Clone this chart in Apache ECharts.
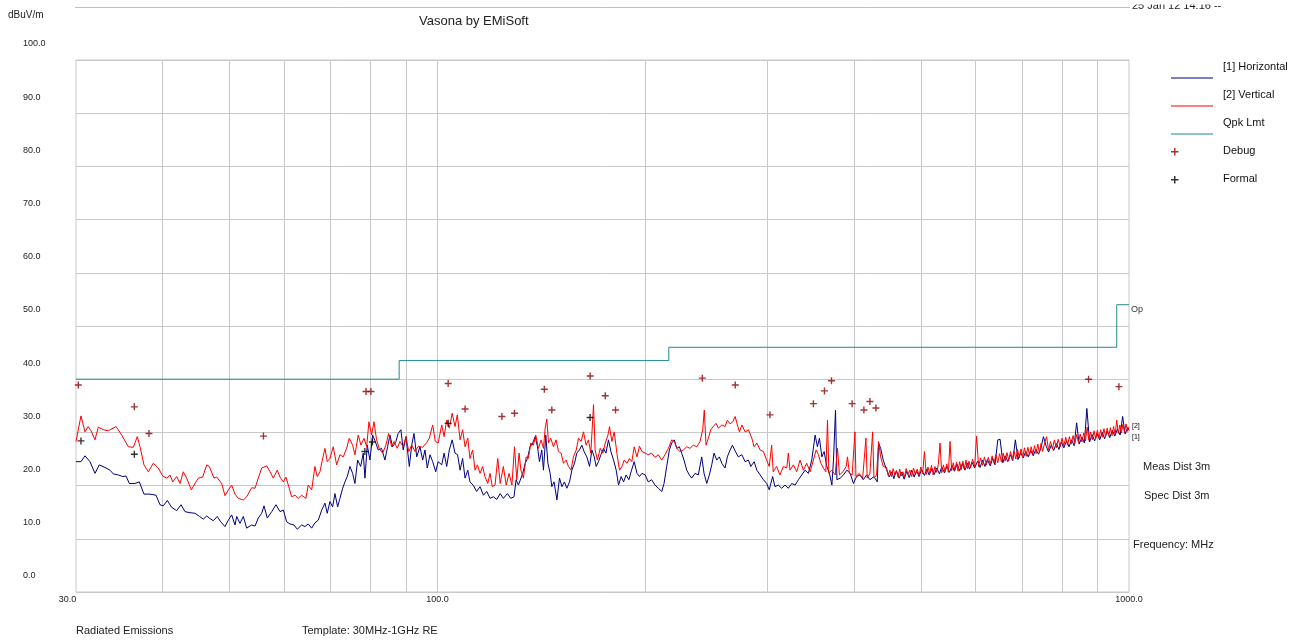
<!DOCTYPE html>
<html>
<head>
<meta charset="utf-8">
<title>Vasona by EMiSoft</title>
<script src="https://cdn.jsdelivr.net/npm/echarts@6/dist/echarts.min.js"></script>
<style>
  html, body { margin: 0; padding: 0; background: #fff; }
  #chart { width: 1297px; height: 640px; }
</style>
</head>
<body>
<div id="chart"></div>
<script>
// readings: [frequency MHz, level dBuV/m]
const horizontal = [
  [30.0,24.5],[30.5,24.5],[30.91,25.6],[31.43,24.5],[31.96,22.3],[32.42,23.9],[33.04,23.4],[33.60,22.9],[33.97,22.2],[34.54,22.0],
  [35.05,21.7],[35.44,21.8],[35.83,20.4],[36.51,20.4],[37.04,20.7],[37.62,18.4],[38.38,18.4],[39.16,18.2],[39.68,16.4],[40.12,16.2],
  [40.66,17.2],[41.26,15.9],[41.95,15.3],[42.56,16.4],[43.13,15.1],[43.85,14.9],[44.59,14.8],[45.27,14.2],[45.84,13.7],[46.36,14.3],
  [46.76,13.9],[47.39,13.4],[48.02,14.2],[48.57,13.2],[49.27,12.3],[49.82,13.5],[50.38,14.5],[50.94,12.6],[51.23,14.2],[51.79,12.9],
  [52.37,14.2],[52.96,12.0],[53.85,12.6],[54.45,12.4],[55.05,13.9],[55.68,14.8],[56.11,16.2],[56.72,13.9],[57.57,15.1],[58.38,16.4],
  [59.18,15.1],[59.84,15.4],[60.50,13.2],[61.17,12.8],[62.00,12.6],[62.68,11.8],
  [63.60,12.6],[64.30,12.3],[65.01,12.8],[65.76,12.0],[66.48,13.0],[67.21,13.5],[68.00,15.4],[68.73,16.7],[69.26,14.8],[69.88,17.0],
  [70.51,16.0],[71.06,18.5],[71.70,16.0],[72.25,17.6],[72.91,19.5],[73.47,20.7],[74.03,21.7],[74.70,23.6],[75.37,22.3],[75.95,20.4],
  [76.64,24.8],[77.41,23.6],[78.08,26.1],[78.53,21.4],[79.13,27.6],[79.84,24.8],[80.56,29.5],[81.27,28.3],[82.07,26.7],[83.00,27.0],
  [83.92,24.8],[84.68,27.3],[85.33,29.5],[86.10,27.3],[87.05,28.3],[87.72,29.8],[88.51,30.5],[89.19,26.7],[90.03,29.2],[91.03,23.6],
  [91.76,27.6],[92.46,29.8],[93.30,25.4],[94.32,27.3],[95.17,24.8],[95.90,26.7],[96.64,23.3],[97.52,25.8],[98.40,24.5],[99.39,22.6],
  [100.2,24.5],[101.4,23.9],[102.2,26.1],[103.1,23.6],[104.0,26.7],[105.0,28.6],[106.0,26.1],[106.9,25.8],[107.8,22.9],[108.7,25.1],
  [109.6,21.4],[110.6,22.9],[111.4,20.7],[112.6,20.1],[113.9,18.9],[115.2,19.8],[116.5,18.2],[117.8,18.9],[119.1,17.6],[120.4,17.9],
  [121.8,17.4],[123.2,18.5],[124.5,17.6],[126.2,18.5],[127.6,17.6],[129.0,17.9],[129.9,21.1],[130.9,20.1],
  [131.6,19.8],[132.8,22.3],[133.9,24.2],[134.9,25.1],[136.1,27.3],[137.3,28.0],[138.4,29.2],[139.5,27.3],[140.4,24.5],[141.5,26.7],
  [142.3,22.9],[143.4,29.5],[144.4,24.2],[145.5,22.3],[146.3,19.8],[147.4,20.7],[148.8,17.3],[150.1,21.4],[151.3,19.8],[152.6,20.7],
  [153.8,19.5],[155.2,20.7],[156.4,22.9],[157.8,24.2],[159.0,26.1],[160.4,26.7],[161.7,27.6],[162.9,26.4],[164.4,25.4],[165.9,23.6],
  [167.2,26.7],[168.5,25.4],[169.6,23.6],[170.9,24.5],[172.3,25.8],[173.8,27.0],[175.2,26.1],[176.7,28.6],[178.1,26.4],[179.7,24.8],
  [181.3,22.9],[182.7,20.1],[184.3,21.7],[185.8,20.7],[187.4,22.0],[189.1,21.1],[190.8,22.9],[192.5,24.5],[194.3,22.3],[195.9,21.7],
  [197.5,22.3],[199.7,22.0],[201.7,20.7],[204.0,21.1],[206.3,20.1],[208.6,19.5],[211.0,18.9],[212.6,20.4],[214.5,23.6],[216.4,26.7],
  [218.1,28.0],[220.0,28.6],[221.8,27.0],[223.7,27.3],[225.5,26.1],[227.2,24.8],[229.3,22.9],[231.3,22.0],[233.1,21.4],[235.7,22.3],
  [238.3,22.0],[241.0,25.4],[242.9,22.3],[245.1,20.4],[247.2,22.0],[249.2,23.9],[251.1,26.1],[253.4,24.8],[255.6,25.4],[257.7,24.2],
  [260.5,23.3],[262.5,25.4],[264.9,26.7],[267.0,27.6],[269.4,26.5],[272.3,25.4],[275.5,25.8],[278.5,24.5],[281.6,24.8],[283.8,23.6],
  [287.0,24.5],[289.6,22.9],[292.8,22.0],[296.0,21.1],[299.2,20.4],[301.8,19.2],[305.2,21.7],[307.6,19.8],[311.0,20.1],[314.5,19.5],
  [318.1,20.1],[321.6,19.5],[325.3,20.4],[328.9,20.1],[332.6,21.1],[336.3,22.0],[340.0,22.9],[343.8,22.3],[347.7,24.8],[351.6,29.5],
  [354.3,27.3],[356.7,28.9],[359.6,25.4],[362.3,26.4],[365.6,23.6],[368.8,22.3],[371.8,20.1],[373.8,24.8],[376.3,34.2],[378.1,21.1],
  [382.2,21.4],[386.4,22.0],[390.8,22.9],[395.1,22.3],[399.5,20.4],[403.7,21.7],[408.2,22.0],[412.7,21.1],[417.4,22.0],[422.0,21.1],
  [427.7,21.7],[432.4,20.7],[434.4,28.0],[437.3,27.0],[441.1,24.8],
  [446,23.0],[450,21.6],[454,22.6],[457,21.3],[461,22.8],[465,21.4],[469,22.5],[473,21.2],[477,22.7],[481,21.5],
  [485,22.9],[489,21.6],[493,22.8],[497,21.7],[501,23.0],[506,21.9],[510,23.1],[514,22.0],[519,23.2],[523,22.1],
  [527,23.3],[532,22.2],[536,23.5],[541,22.4],[545,23.6],[550,22.5],[555,23.8],[559,22.7],[564,24.0],[569,22.8],
  [574,24.1],[579,22.9],[584,24.2],[588,23.1],[593,24.4],[598,23.3],[604,24.6],[609,23.4],[614,24.8],[619,23.6],
  [624,24.9],[630,23.7],[635,25.1],[640,23.9],[646,28.6],[651,28.7],[657,24.3],[662,25.6],[668,24.5],[674,25.8],
  [679,24.7],[685,28.6],[691,24.9],[697,26.2],[703,25.2],[709,26.4],[715,25.4],[721,26.6],[727,25.6],[733,26.8],
  [740,25.9],[746,27.1],[752,29.2],[759,27.4],[765,26.3],[772,27.6],[778,26.6],[785,27.9],[792,26.8],[798,28.2],
  [805,27.1],[812,28.4],[819,27.3],[826,28.6],[833,27.5],[840,31.8],[847,27.8],[855,29.1],[862,28.0],[869,34.5],
  [877,28.2],[884,29.6],[892,28.4],[899,29.8],[907,28.6],[915,30.0],[922,28.8],[930,30.2],[938,29.0],[946,30.4],
  [954,29.3],[962,30.6],[971,29.5],[979,33.0],[987,29.7],[996,30.9],[1000,30.4]
];

const vertical = [
  [30.0,28.3],[30.5,33.1],[30.91,30.1],[31.25,31.1],[31.54,30.3],[31.96,28.6],[32.31,31.0],[32.86,30.5],[33.41,30.3],[34.28,31.1],
  [34.93,29.5],[35.71,27.3],[36.31,27.2],[36.79,29.2],[37.13,27.3],[37.62,23.9],[38.17,22.6],[38.81,24.2],[39.46,23.3],[40.04,21.8],
  [40.58,21.4],[41.03,22.0],[41.40,20.7],[41.95,21.7],[42.42,20.4],[42.88,22.6],[43.37,21.4],[44.04,19.2],[44.59,20.4],[45.08,21.4],
  [45.74,21.6],[46.36,23.9],[46.76,23.6],[47.50,21.4],[47.93,21.6],[48.73,20.4],[49.27,18.1],[49.82,19.2],[50.38,20.1],[50.94,18.4],
  [51.50,17.6],[52.37,17.3],[52.96,17.9],[53.85,19.6],[54.45,19.5],[55.05,21.4],[55.68,23.3],[56.61,23.7],[57.24,22.6],[57.87,21.4],
  [58.64,22.9],[59.18,21.6],[59.84,20.7],[60.36,21.6],[61.03,19.5],[61.52,17.9],[62.20,18.2],[62.88,17.6],
  [63.60,18.2],[64.51,17.6],[65.01,20.1],[65.76,19.2],[66.48,23.6],[66.99,21.7],[67.60,22.6],[68.13,24.8],[68.73,27.0],[69.26,24.5],
  [69.88,25.1],[70.66,27.3],[71.46,23.9],[72.25,25.8],[73.05,25.4],[73.88,27.0],[74.52,28.9],[75.37,27.6],[75.95,25.8],[76.79,29.5],
  [77.49,27.6],[78.27,28.9],[78.97,27.3],[79.58,32.0],[80.29,29.5],[80.91,32.0],[81.63,28.6],[82.34,27.0],[83.28,26.1],[84.20,27.6],
  [84.96,29.8],[85.81,27.3],[86.56,28.3],[87.43,27.0],[88.22,28.3],[89.19,27.3],[90.03,29.2],[90.85,26.4],[91.76,27.6],[92.77,26.4],
  [93.80,27.4],[95.17,27.2],[96.45,28.1],[97.29,28.9],[98.40,31.4],[99.26,28.3],[100.2,28.0],[101.4,31.4],[102.2,29.2],[103.1,32.3],
  [104.0,30.8],[105.0,33.6],[106.0,31.1],[106.8,33.3],[107.8,28.6],[108.7,30.5],[109.6,27.3],[110.6,28.9],[111.4,25.1],[112.4,26.7],
  [113.3,22.9],[114.2,23.9],[115.2,22.3],[116.2,23.6],[117.1,21.7],[118.2,20.4],[119.1,22.3],[120.0,19.8],[121.1,20.1],[122.2,25.1],
  [123.2,20.4],[124.5,23.6],[125.7,20.1],[126.9,22.3],[128.1,20.1],[129.2,27.3],[130.2,21.1],[131.2,26.1],
  [132.0,22.9],[133.1,21.4],[134.3,25.4],[135.3,25.1],[136.4,28.0],[137.6,27.6],[138.7,29.5],[139.9,27.0],[141.2,28.6],[142.3,27.0],
  [143.1,30.8],[143.9,32.5],[144.7,28.0],[145.8,28.9],[147.1,27.3],[148.4,28.6],[149.6,26.4],[150.9,26.1],[152.1,24.2],[153.5,24.8],
  [154.6,23.6],[156.0,22.9],[157.2,25.4],[158.7,26.7],[159.9,28.9],[161.3,28.3],[162.6,30.1],[164.0,27.6],[165.3,28.6],[166.6,26.1],
  [168.1,35.2],[169.0,26.7],[170.3,24.8],[171.9,27.0],[173.4,26.1],[174.8,28.0],[176.4,29.5],[177.3,31.1],[178.7,28.3],[180.1,30.1],
  [181.7,26.1],[183.3,22.9],[184.8,23.6],[186.2,24.8],[187.9,24.2],[189.5,25.1],[191.0,24.5],[192.5,27.3],[194.3,25.4],[195.9,27.4],
  [197.5,26.4],[199.7,26.1],[201.7,25.8],[204.0,26.1],[206.3,25.3],[208.6,25.8],[211.0,24.8],[213.3,25.8],[215.7,27.0],[218.1,28.6],
  [220.0,28.3],[221.8,27.0],[224.2,26.4],[226.7,26.7],[229.3,27.3],[231.8,27.0],[234.4,27.6],[237.1,27.3],[239.7,28.3],[241.8,30.5],
  [243.1,34.2],[244.5,27.6],[246.4,28.9],[248.4,30.5],[250.5,31.1],[252.8,31.7],[254.8,30.8],[257.7,31.4],[260.5,31.1],[262.5,32.3],
  [264.9,31.6],[267.3,32.0],[269.4,33.0],[271.4,31.4],[273.3,30.1],[275.5,31.4],[278.5,30.1],[281.6,30.5],[284.8,28.9],[287.0,27.3],
  [289.6,28.0],[292.8,26.7],[296.0,26.4],[299.2,24.8],[301.8,23.6],[304.2,27.6],[305.8,22.6],[309.3,23.6],[312.7,22.0],[316.3,23.6],
  [319.9,23.3],[321.6,26.1],[323.4,22.9],[327.0,23.9],[330.7,22.6],[334.4,24.8],[338.1,22.9],[341.9,24.2],[345.8,22.6],[349.6,24.8],
  [352.8,26.7],[355.5,25.8],[358.4,24.2],[361.5,23.3],[364.4,22.6],[366.4,32.3],[368.1,22.3],[371.8,22.9],[375.9,22.0],[378.8,27.0],
  [381.3,22.0],[385.7,22.6],[389.9,23.6],[391.6,25.4],[394.2,22.3],[397.7,22.0],[401.5,30.1],[402.8,21.7],[407.2,22.3],[411.9,21.4],
  [416.4,28.9],[418.2,21.4],[422.0,22.3],[425.8,30.1],[427.7,21.4],[431.5,22.0],[434.4,28.3],[437.3,25.4],[441.1,23.6],
  [446,23.4],[448.5,21.9],[451,22.9],[453.5,21.7],[456,23.2],[458.5,22.0],[461,22.8],[463.5,21.6],[466,23.1],[468.5,21.8],
  [471,22.6],[473.5,21.5],[476,23.2],[479,22.1],[482,22.9],[485,21.7],[488,23.3],[491,22.0],[494,23.1],[497,21.9],
  [500,23.5],[503,22.2],[506,26.4],[509,22.1],[512,23.5],[515,22.3],[518,23.8],[521,22.0],[524,23.6],[527,22.5],
  [530,24.0],[533,28.0],[536,22.4],[539,23.9],[542,22.6],[545,24.1],[548,22.5],[551,28.3],[554,22.8],[557,24.3],
  [560,22.9],[563,24.4],[566,22.7],[569,24.5],[572,23.0],[575,24.6],[578,23.1],[581,24.8],[584,23.2],[587,24.6],
  [590,23.3],[594,25.0],[598,23.5],[602,29.3],[606,23.6],[610,25.2],[614,23.8],[618,25.4],[622,23.9],[626,25.3],
  [630,24.0],[634,25.6],[638,24.2],[642,25.8],[646,24.3],[650,26.0],[654,24.4],[658,26.1],[662,24.6],[666,26.2],
  [670,24.7],[674,26.4],[678,24.9],[682,26.5],[686,25.0],[690,26.8],[694,25.2],[698,26.9],[702,25.3],[706,27.1],
  [710,25.5],[714,27.2],[718,25.7],[722,27.3],[726,25.9],[730,27.5],[734,26.0],[738,27.8],[742,26.2],[746,27.9],
  [750,26.4],[755,28.0],[760,29.2],[765,26.7],[770,28.3],[775,26.9],[780,28.6],[785,27.1],[790,28.7],[795,27.3],
  [800,28.9],[805,27.5],[810,29.1],[815,27.6],[820,29.2],[825,27.8],[830,29.4],[835,27.9],[840,29.6],[845,28.1],
  [850,29.7],[855,28.2],[860,29.9],[865,28.4],[870,31.0],[875,28.5],[880,30.1],[885,28.6],[890,30.3],[895,28.8],
  [900,30.4],[905,28.9],[910,30.5],[915,29.1],[920,30.7],[925,29.2],[930,30.8],[935,29.3],[940,30.9],[945,29.4],
  [950,31.1],[955,29.6],[960,32.3],[965,29.8],[970,31.4],[975,29.9],[980,31.5],[985,30.0],[990,31.6],[995,30.2],
  [1000,31.0]
];

const qpkLimit = [[30,40],[88,40],[88,43.5],[216,43.5],[216,46],[960,46],[960,54],[1000,54]];

const debugPoints = [
  [30.23,38.9],[36.43,34.8],[38.25,29.8],[56.0,29.3],[78.8,37.7],[80.1,37.7],[103.6,39.2],[109.6,34.4],
  [123.9,33.0],[129.2,33.6],[142.7,38.1],[146.3,34.2],[166.2,40.6],[174.8,36.9],[180.9,34.2],[241.5,40.2],
  [269.5,38.9],[302.5,33.3],[349.6,35.4],[362.7,37.8],[371.3,39.7],[397.7,35.4],[413.6,34.2],[422.0,35.8],
  [430.5,34.6],[874,40.0],[967,38.6]
];

const formalPoints = [[30.5,28.4],[36.43,25.9],[78.5,26.4],[80.5,28.2],[103.6,31.7],[166.2,32.8]];

const freqGrid = [40, 50, 60, 70, 80, 90, 100, 200, 300, 400, 500, 600, 700, 800, 900];

const FONT = '"Liberation Sans", Arial, sans-serif';
const plus = 'path://M3,0H4.5V3H7.5V4.5H4.5V7.5H3V4.5H0V3H3Z';
// legend swatches are drawn inside a 42x28 box, the stray moves pin the box size
const plusLegend = 'path://M3,0H4.5V3H7.5V4.5H4.5V7.5H3V4.5H0V3H3Z M0,0L0,0 M42,28L42,28';
const lineLegend = 'path://M0,13.5H42V14.5H0Z M0,0L0,0 M42,28L42,28';

const chart = echarts.init(document.getElementById('chart'));

chart.setOption({
  animation: false,
  backgroundColor: '#fff',
  textStyle: { fontFamily: FONT },
  title: {
    text: 'Vasona by EMiSoft',
    left: 419, top: 15, padding: 0,
    textStyle: { fontSize: 13, fontWeight: 'normal', color: '#222', fontFamily: FONT }
  },
  legend: {
    orient: 'vertical',
    left: 1171, top: 56,
    padding: 0,
    itemWidth: 42, itemHeight: 28, itemGap: -16,
    itemStyle: { borderWidth: 0 },
    formatter: name => name + '\n ',
    textStyle: { fontSize: 11, color: '#111', lineHeight: 22, padding: [0, 0, 0, 5], fontFamily: FONT },
    data: [
      { name: '[1] Horizontal', icon: lineLegend },
      { name: '[2] Vertical', icon: lineLegend },
      { name: 'Qpk Lmt', icon: lineLegend },
      { name: 'Debug', icon: plusLegend },
      { name: 'Formal', icon: plusLegend }
    ]
  },
  grid: {
    left: 76, right: 168, top: 60, bottom: 48,
    show: true, borderColor: '#c8c8c8', borderWidth: 1
  },
  xAxis: {
    type: 'log', logBase: 10, min: 30, max: 1000,
    axisLine: { show: false },
    axisTick: { show: false },
    splitLine: { show: false },
    axisLabel: {
      showMinLabel: true, showMaxLabel: true,
      margin: 3, fontSize: 9, color: '#222',
      formatter: v => (v < 50 ? '{a|' + v.toFixed(1) + '}' : v.toFixed(1)),
      rich: { a: { fontSize: 9, color: '#222', padding: [0, 17, 0, 0] } }
    }
  },
  yAxis: {
    type: 'value', min: 0, max: 100, interval: 10,
    axisLine: { show: false },
    axisTick: { show: false },
    splitLine: { lineStyle: { color: '#c8c8c8', width: 1 } },
    axisLabel: {
      align: 'left', margin: 53,
      formatter: v => '{t|' + v.toFixed(1) + '}',
      rich: { t: { fontSize: 9, color: '#222', padding: [0, 0, 32, 0] } }
    }
  },
  series: [
    {
      name: 'Qpk Lmt', type: 'line', data: qpkLimit, symbol: 'none', z: 3,
      lineStyle: { color: '#208a8a', width: 1 }, itemStyle: { color: '#208a8a' },
      endLabel: { show: true, formatter: 'Op', fontSize: 9, color: '#333', distance: 2, offset: [0, 5] },
      markLine: {
        silent: true, symbol: 'none', z: 1, animation: false,
        label: { show: false },
        lineStyle: { color: '#c8c8c8', width: 1, type: 'solid' },
        data: freqGrid.map(f => ({ xAxis: f }))
      }
    },
    {
      name: '[1] Horizontal', type: 'line', data: horizontal, symbol: 'none', z: 4,
      lineStyle: { color: '#000080', width: 1 }, itemStyle: { color: '#000080' },
      endLabel: { show: true, formatter: '[1]', fontSize: 7, color: '#000', distance: 3, offset: [0, 7] }
    },
    {
      name: '[2] Vertical', type: 'line', data: vertical, symbol: 'none', z: 5,
      lineStyle: { color: '#ff0000', width: 1 }, itemStyle: { color: '#ff0000' },
      endLabel: { show: true, formatter: '[2]', fontSize: 7, color: '#000', distance: 3, offset: [0, -1] }
    },
    {
      name: 'Debug', type: 'scatter', data: debugPoints, symbol: plus, symbolSize: 7, z: 6,
      itemStyle: { color: '#8b0000' }
    },
    {
      name: 'Formal', type: 'scatter', data: formalPoints, symbol: plus, symbolSize: 7, z: 6,
      itemStyle: { color: '#000' }
    }
  ],
  graphic: [
    { type: 'line', shape: { x1: 75, y1: 7.5, x2: 1130, y2: 7.5 }, style: { stroke: '#c0c0c0', lineWidth: 1 } },
    { type: 'text', x: 1132, y: 11, style: { text: '25 Jan 12 14:16 --', font: '11px ' + FONT, fill: '#222', verticalAlign: 'bottom' } },
    { type: 'rect', shape: { x: 1131, y: -2, width: 110, height: 6.5 }, style: { fill: '#fff' }, z: 10 },
    { type: 'text', x: 8, y: 15, style: { text: 'dBuV/m', font: '10px ' + FONT, fill: '#222', verticalAlign: 'middle' } },
    { type: 'text', x: 1143, y: 467, style: { text: 'Meas Dist 3m', font: '11px ' + FONT, fill: '#222', verticalAlign: 'middle' } },
    { type: 'text', x: 1144, y: 496, style: { text: 'Spec Dist 3m', font: '11px ' + FONT, fill: '#222', verticalAlign: 'middle' } },
    { type: 'text', x: 1133, y: 545, style: { text: 'Frequency: MHz', font: '11px ' + FONT, fill: '#222', verticalAlign: 'middle' } },
    { type: 'text', x: 76, y: 631, style: { text: 'Radiated Emissions', font: '11px ' + FONT, fill: '#222', verticalAlign: 'middle' } },
    { type: 'text', x: 302, y: 631, style: { text: 'Template: 30MHz-1GHz RE', font: '11px ' + FONT, fill: '#222', verticalAlign: 'middle' } }
  ]
});
</script>
</body>
</html>
